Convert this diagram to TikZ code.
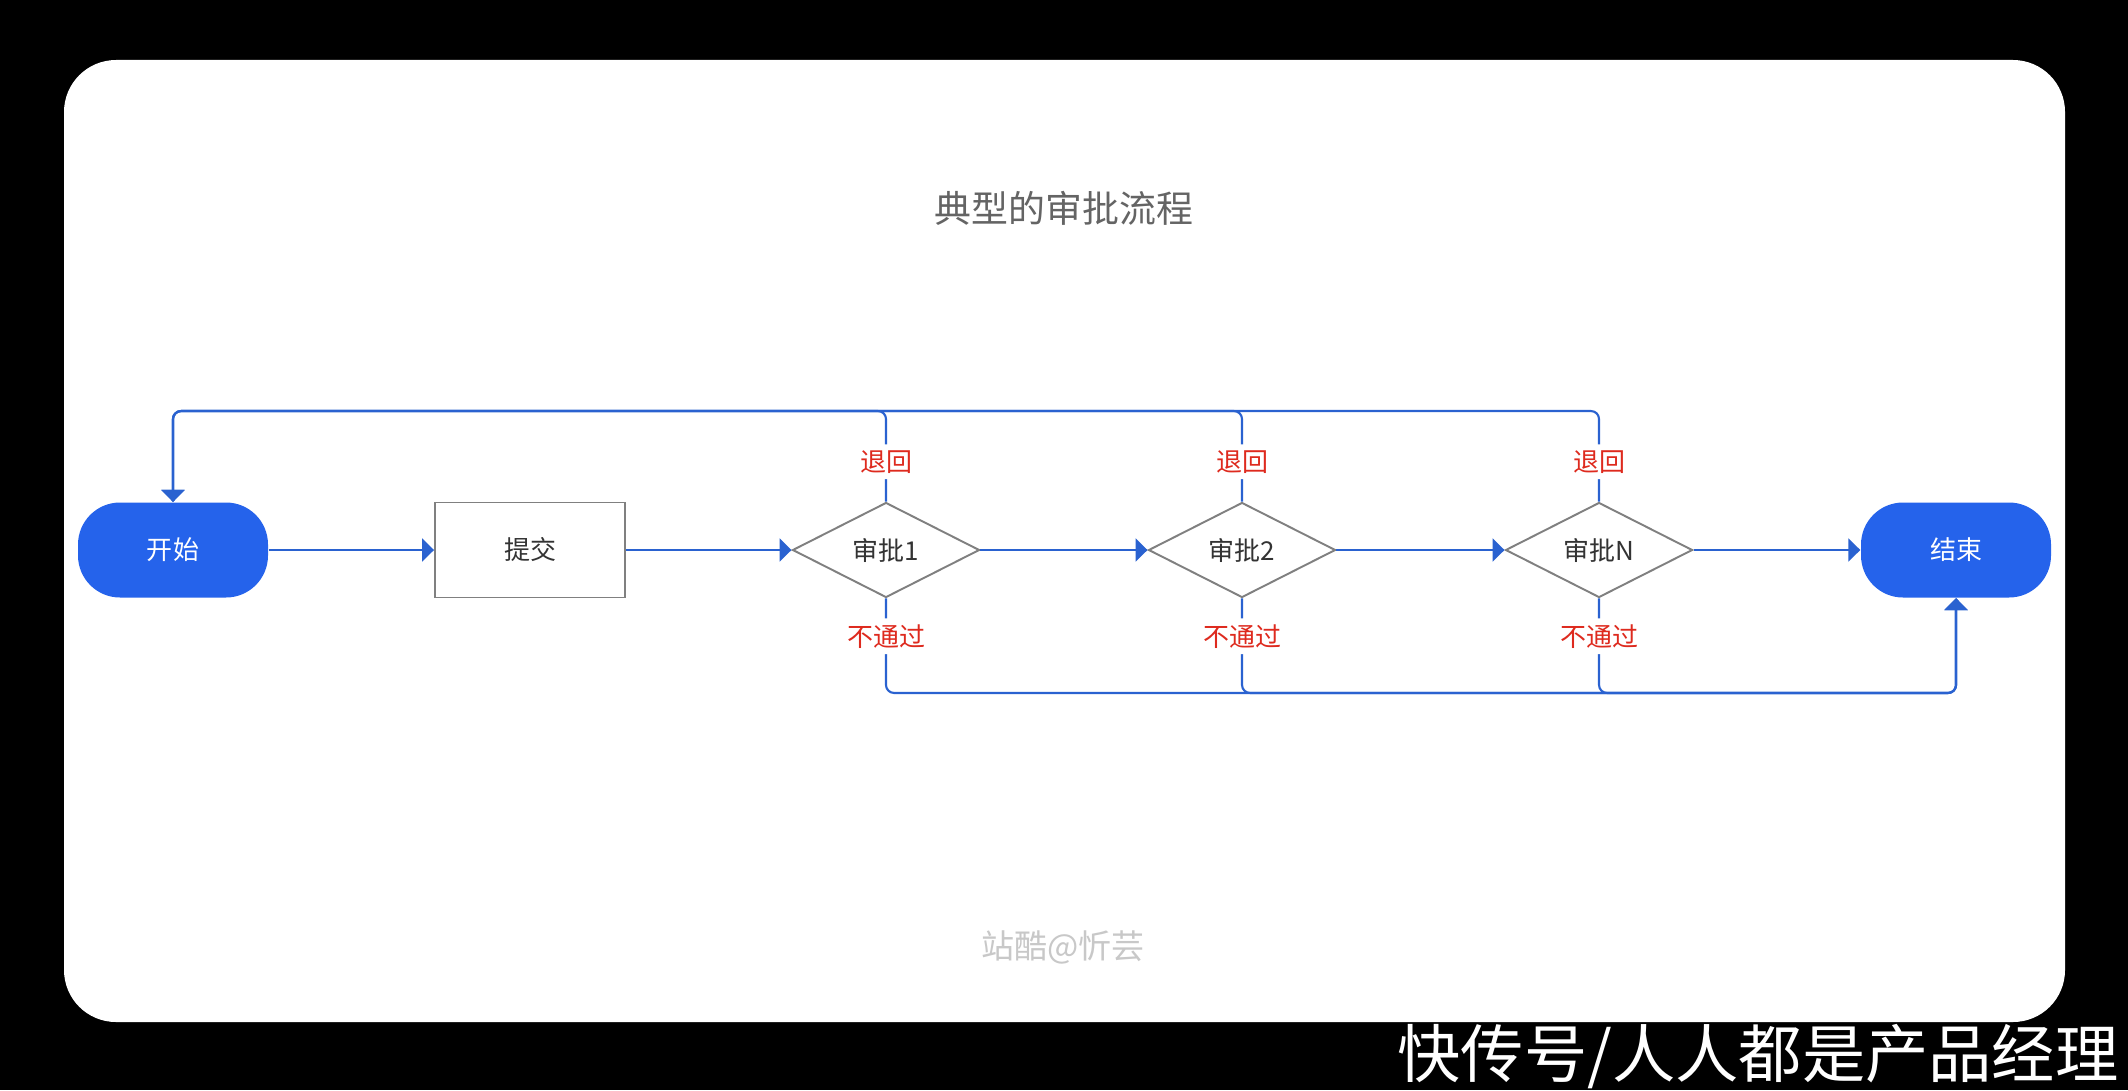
\documentclass[tikz,border=0pt]{standalone}
\usepackage{fontspec}
\setmainfont{Noto Sans CJK SC}
\usetikzlibrary{arrows.meta, positioning, shapes.geometric}
\definecolor{pillblue}{RGB}{37,99,235}
\definecolor{lineblue}{RGB}{42,98,208}
\definecolor{backred}{RGB}{222,42,30}
\definecolor{boxgray}{RGB}{128,128,128}
\definecolor{textdark}{RGB}{51,51,51}
\definecolor{titlegray}{RGB}{100,100,100}
\definecolor{markgray}{RGB}{200,200,200}

\begin{document}
\begin{tikzpicture}[>={Triangle[length=1.2mm, width=2.3mm]},
    terminal/.style={rectangle, rounded corners=0.42cm, fill=pillblue, minimum width=1.9cm, minimum height=0.95cm, text=white, font=\fontsize{7.4}{9}\selectfont},
    stepbox/.style={rectangle, draw=boxgray, line width=0.55pt, minimum width=1.9cm, minimum height=0.95cm, text=textdark, font=\fontsize{7.4}{9}\selectfont},
    decision/.style={diamond, aspect=2, inner sep=0pt, draw=boxgray, line width=0.55pt, minimum width=1.87cm, minimum height=0.95cm, text=textdark, font=\fontsize{7.4}{9}\selectfont},
    flow/.style={->, draw=lineblue, line width=0.6pt, rounded corners=0.08cm},
    lbl/.style={fill=white, text=backred, inner sep=0.06cm, font=\fontsize{7.4}{9}\selectfont}]
    \useasboundingbox (0,0) rectangle (21.28,10.90);
    \fill [black] (0,0) rectangle (21.28,10.90);
    \fill [white, rounded corners=0.52cm] (0.64,0.68) rectangle (20.65,10.30);

    \node (title) at (10.64,8.82) [text=titlegray, font=\fontsize{10.5}{12}\selectfont] {典型的审批流程};

    \node (start) at (1.73,5.40) [terminal] {开始};
    \node (submit) at (5.30,5.40) [stepbox] {提交};
    \node (check1) at (8.86,5.40) [decision] {审批1};
    \node (check2) at (12.42,5.40) [decision] {审批2};
    \node (checkN) at (15.99,5.40) [decision] {审批N};
    \node (finish) at (19.56,5.40) [terminal] {结束};

    \draw [flow] (start) -- (submit);
    \draw [flow] (submit) -- (check1);
    \draw [flow] (check1) -- (check2);
    \draw [flow] (check2) -- (checkN);
    \draw [flow] (checkN) -- (finish);

    \draw [flow] (check1.north) -- node [lbl, pos=0.44] {退回} ++(0,0.905) -| (start.north);
    \draw [flow] (check2.north) -- node [lbl, pos=0.44] {退回} ++(0,0.905) -| (start.north);
    \draw [flow] (checkN.north) -- node [lbl, pos=0.44] {退回} ++(0,0.905) -| (start.north);

    \draw [flow] (check1.south) -- node [lbl, pos=0.40] {不通过} ++(0,-0.945) -| (finish.south);
    \draw [flow] (check2.south) -- node [lbl, pos=0.40] {不通过} ++(0,-0.945) -| (finish.south);
    \draw [flow] (checkN.south) -- node [lbl, pos=0.40] {不通过} ++(0,-0.945) -| (finish.south);

    \node (mark) at (10.63,1.43) [text=markgray, font=\fontsize{9.4}{11}\selectfont] {站酷@忻芸};
    \node (source) at (21.19,0.33) [anchor=east, inner sep=0pt, text=white, font=\fontsize{18}{20}\selectfont] {快传号/人人都是产品经理};
\end{tikzpicture}
\end{document}
